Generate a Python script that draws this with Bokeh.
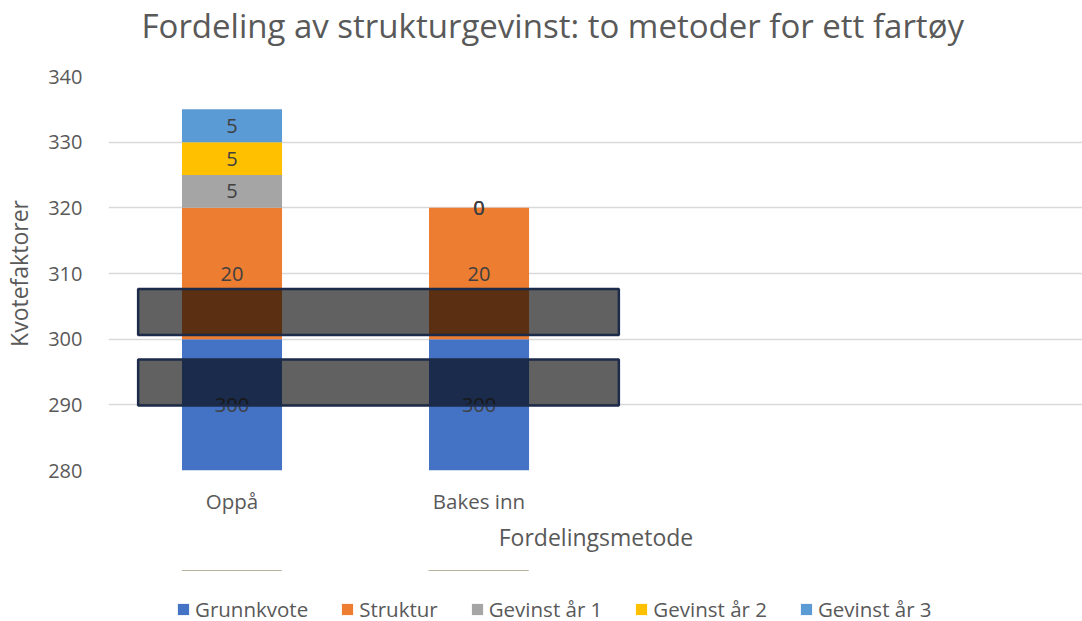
from bokeh.plotting import figure
from bokeh.layouts import column
from bokeh.models import ColumnDataSource, Legend, LegendItem, FixedTicker, SingleIntervalTicker, Title
from bokeh.core.properties import value
from bokeh.embed import file_html
from bokeh.resources import INLINE

# ---- data ----
categories = ["Oppå", "Bakes inn"]
n_slots = 3.947                      # category slots visible on the x axis
series = ["Grunnkvote", "Struktur", "Gevinst år 1", "Gevinst år 2", "Gevinst år 3"]
grunnkvote = [300, 300]
struktur = [20, 20]
gevinst_1 = [5, 0]
gevinst_2 = [5, 0]
gevinst_3 = [5, 0]
colors = ["#4472C4", "#ED7D31", "#A5A5A5", "#FFC000", "#5B9BD5"]
y_min, y_max = 280, 340

# overlay boxes (data units)
box_left = [0.120, 0.120]
box_right = [2.066, 2.066]
box_bottom = [300.64, 289.9]
box_top = [307.64, 296.9]

FONT = "Open Sans"
TXT = "#595959"

values = [grunnkvote, struktur, gevinst_1, gevinst_2, gevinst_3]
xs = [i + 0.5 for i in range(len(categories))]

fig = figure(frame_width=975, frame_height=394,
             x_range=(0, n_slots), y_range=(y_min, y_max),
             output_backend="svg", toolbar_location=None,
             min_border_left=107, min_border_right=0, min_border_top=76, min_border_bottom=100)
fig.outline_line_color = None
fig.background_fill_color = "white"

# spacer between frame and title, then the title itself
spacer = Title(text=" ", text_font_size="10px", standoff=14)
fig.add_layout(spacer, "above")
title = Title(text="Fordeling av strukturgevinst: to metoder for ett fartøy",
              text_font=FONT, text_font_size="33px", text_font_style="normal",
              text_color=TXT, align="left", offset=33, standoff=0, vertical_align="top")
fig.add_layout(title, "above")

bottoms = [0.0] * len(categories)
sources = []
label_x, label_y, label_t = [], [], []
for name, vals, col in zip(series, values, colors):
    tops = [b + v for b, v in zip(bottoms, vals)]
    src = ColumnDataSource(dict(x=xs, bottom=bottoms, top=tops))
    sources.append(src)
    fig.vbar(x="x", bottom="bottom", top="top", width=0.405, source=src,
             fill_color=col, line_color=None)
    for x, b, t, v in zip(xs, bottoms, tops, vals):
        lo = max(b, y_min)
        hi = min(t, y_max)
        label_x.append(x)
        label_y.append((lo + hi) / 2 if v else t)
        label_t.append(str(v))
    bottoms = tops

fig.text(x=label_x, y=label_y, text=label_t, text_align="center", text_baseline="middle",
         text_font=value(FONT), text_font_size="20px", text_color="#404040")

fig.quad(left=box_left, right=box_right, bottom=box_bottom, top=box_top,
         fill_color="black", fill_alpha=0.62, line_color="#1c2b4a", line_width=2.5)

# axes
fig.xaxis.ticker = FixedTicker(ticks=xs)
fig.xaxis.major_label_overrides = {x: c for x, c in zip(xs, categories)}
fig.xaxis.axis_label = "Fordelingsmetode"
fig.yaxis.ticker = SingleIntervalTicker(interval=10)
fig.yaxis.axis_label = "Kvotefaktorer"
for ax in (fig.xaxis, fig.yaxis):
    ax.axis_line_color = None
    ax.major_tick_line_color = None
    ax.minor_tick_line_color = None
    ax.major_label_text_font = FONT
    ax.major_label_text_color = TXT
    ax.axis_label_text_font = FONT
    ax.axis_label_text_font_size = "23px"
    ax.axis_label_text_font_style = "normal"
    ax.axis_label_text_color = TXT
fig.yaxis.major_label_text_font_size = "20px"
fig.xaxis.major_label_text_font_size = "20.5px"
fig.yaxis.major_label_standoff = 20
fig.yaxis.axis_label_standoff = 10
fig.xaxis.major_label_standoff = 10
fig.xaxis.axis_label_standoff = 3
fig.xgrid.grid_line_color = None
fig.ygrid.ticker = SingleIntervalTicker(interval=10)
fig.ygrid.grid_line_color = "#D9D9D9"
fig.ygrid.grid_line_width = 1.3

# ---- legend strip below the chart (same series; its view range lies below all bars) ----
leg_fig = figure(width=1082, height=56, x_range=(0, n_slots), y_range=(-2, -1),
                 x_axis_type=None, y_axis_type=None,
                 output_backend="svg", toolbar_location=None,
                 min_border_left=0, min_border_right=0, min_border_top=0, min_border_bottom=0)
leg_fig.outline_line_color = None
leg_fig.xgrid.visible = False
leg_fig.ygrid.visible = False
leg_items = []
for name, col, src in zip(series, colors, sources):
    r = leg_fig.vbar(x="x", bottom="bottom", top="top", width=0.405, source=src,
                     fill_color=col, line_color=None)
    leg_items.append(LegendItem(label=name, renderers=[r]))
legend = Legend(items=leg_items, orientation="horizontal", location=(68, 3),
                glyph_width=14, glyph_height=14, label_standoff=5, spacing=32,
                label_text_font=FONT, label_text_font_size="20.5px", label_text_color=TXT,
                border_line_alpha=0, background_fill_alpha=0, padding=0, margin=0)
leg_fig.add_layout(legend, "center")

p = column(fig, leg_fig, spacing=0)

open("out.html", "w").write(file_html(p, INLINE))
